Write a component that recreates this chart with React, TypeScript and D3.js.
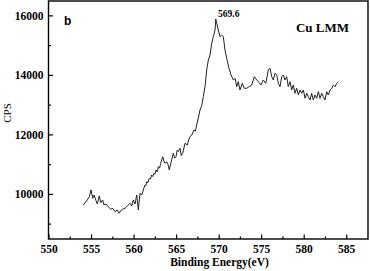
import React from "react";
import * as d3 from "d3";

const energy: number[] = [
  554.03, 554.35, 554.5, 554.74, 554.94, 555.14, 555.29, 555.53, 555.68, 555.91,
  556.08, 556.31, 556.47, 556.7, 556.97, 557.25, 557.49, 557.76, 558.03, 558.26,
  558.43, 558.66, 558.93, 559.13, 559.32, 559.52, 559.72, 559.91, 560.11, 560.31,
  560.5, 560.7, 560.9, 561.09, 561.19, 561.29, 561.39, 561.49, 561.64, 561.79,
  561.93, 562.07, 562.2, 562.34, 562.46, 562.58, 562.72, 562.85, 563.0, 563.13,
  563.37, 563.5, 563.64, 563.84, 564.0, 564.14, 564.42, 564.61, 564.77, 564.93,
  565.06, 565.2, 565.4, 565.55, 565.72, 565.99, 566.26, 566.42, 566.58, 566.78,
  567.05, 567.2, 567.36, 567.55, 567.75, 567.95, 568.14, 568.34, 568.54, 568.73,
  568.93, 569.13, 569.32, 569.52, 569.6, 569.9, 570.1, 570.3, 570.49, 570.69,
  570.89, 571.16, 571.4, 571.67, 571.87, 572.07, 572.25, 572.45, 572.72, 572.96,
  573.24, 573.51, 573.83, 574.14, 574.42, 574.61, 574.92, 575.19, 575.48, 575.78,
  575.98, 576.18, 576.37, 576.57, 576.77, 576.96, 577.16, 577.36, 577.54, 577.74,
  577.94, 578.13, 578.33, 578.53, 578.72, 578.92, 579.12, 579.31, 579.51, 579.71,
  579.9, 580.1, 580.3, 580.48, 580.68, 580.88, 581.07, 581.27, 581.47, 581.66,
  581.86, 582.06, 582.25, 582.45, 582.65, 582.84, 583.04, 583.24, 583.42, 583.62,
  583.82, 584.01,
];

const cps: number[] = [
  9644, 9755, 9812, 9923, 10148, 9869, 9980, 9788, 9677, 9946,
  9721, 9812, 9644, 9677, 9586, 9499, 9533, 9418, 9476, 9365,
  9452, 9499, 9533, 9586, 9644, 9701, 9610, 9812, 9677, 9980,
  9476, 10037, 9980, 10148, 10240, 10316, 10290, 10427, 10400, 10541,
  10520, 10652, 10600, 10709, 10680, 10820, 10760, 10931, 10880, 11045,
  11267, 11120, 11045, 11099, 11000, 10820, 11156, 11381, 11220, 11267,
  11480, 11435, 11549, 11300, 11381, 11717, 11660, 11830, 11939, 11996,
  12164, 12120, 12332, 12568, 12837, 12980, 13284, 13620, 14181, 14517,
  14685, 15078, 15300, 15525, 15895, 15525, 15300, 15357, 15300, 14853,
  14574, 14238, 14013, 13845, 13902, 13620, 13788, 13509, 13734, 13566,
  13566, 13620, 13677, 13956, 13845, 13788, 13677, 13845, 13734, 14181,
  14238, 13956, 13845, 14070, 14013, 13734, 13620, 13956, 14013, 13845,
  13956, 13620, 13788, 13509, 13677, 13398, 13566, 13341, 13509, 13398,
  13509, 13230, 13398, 13284, 13173, 13398, 13173, 13341, 13230, 13452,
  13230, 13398, 13284, 13173, 13452, 13341, 13509, 13566, 13677, 13620,
  13734, 13788,
];

const xMajorTicks: number[] = [550, 555, 560, 565, 570, 575, 580, 585];
const xMinorTicks: number[] = [552.5, 557.5, 562.5, 567.5, 572.5, 577.5, 582.5];
const yMajorTicks: number[] = [10000, 12000, 14000, 16000];
const yMinorTicks: number[] = [9000, 11000, 13000, 15000];

const peakLabel = "569.6";
const peakEnergy = 569.6;
const peakValue = 15895;

export default function App() {
  const left = 48.5;
  const right = 368;
  const top = 1;
  const bottom = 239;
  const x = d3.scaleLinear().domain([550, 587.5]).range([left + 0.5, right]);
  const y = d3.scaleLinear().domain([8500, 16500]).range([bottom, top]);
  const pts: [number, number][] = energy.map((e, i) => [e, cps[i]]);
  const line = d3
    .line<[number, number]>()
    .x((d) => x(d[0]))
    .y((d) => y(d[1]));
  const serif = "'Liberation Serif', 'Times New Roman', serif";
  return (
    <div style={{ position: "fixed", left: 0, top: 0 }}>
      <svg width={370} height={271} style={{ display: "block", background: "#fff" }}>
        <path d={line(pts) || ""} fill="none" stroke="#222" strokeWidth={1} strokeLinejoin="round" />
        {xMajorTicks.map((t) => (
          <g key={"xm" + t}>
            <line x1={x(t)} x2={x(t)} y1={bottom} y2={bottom - 4.5} stroke="#000" strokeWidth={1.2} />
            <text x={x(t)} y={253} textAnchor="middle" fontFamily={serif} fontWeight="bold" fontSize={11.5}>
              {t}
            </text>
          </g>
        ))}
        {xMinorTicks.map((t) => (
          <line key={"xn" + t} x1={x(t)} x2={x(t)} y1={bottom} y2={bottom - 2.5} stroke="#000" strokeWidth={1.2} />
        ))}
        {yMajorTicks.map((t) => (
          <g key={"ym" + t}>
            <line x1={left} x2={left + 4.5} y1={y(t)} y2={y(t)} stroke="#000" strokeWidth={1.2} />
            <text x={43.5} y={y(t) + 3.8} textAnchor="end" fontFamily={serif} fontWeight="bold" fontSize={11.5}>
              {t}
            </text>
          </g>
        ))}
        {yMinorTicks.map((t) => (
          <line key={"yn" + t} x1={left} x2={left + 2.5} y1={y(t)} y2={y(t)} stroke="#000" strokeWidth={1.2} />
        ))}
        <rect x={left} y={top} width={right - left} height={bottom - top} fill="none" stroke="#000" strokeWidth={1.4} />
        <text x={219.5} y={266} textAnchor="middle" fontFamily={serif} fontWeight="bold" fontSize={11.5}>
          Binding Energy(eV)
        </text>
        <text
          transform={`translate(10.5,113) rotate(-90)`}
          textAnchor="middle"
          fontFamily={serif}
          fontSize={11}
        >
          CPS
        </text>
        <text x={x(peakEnergy) + 13} y={y(peakValue) - 1.5} textAnchor="middle" fontFamily={serif} fontWeight="bold" fontSize={9.5}>
          {peakLabel}
        </text>
        <text x={322.5} y={31.5} textAnchor="middle" fontFamily={serif} fontWeight="bold" fontSize={13}>
          Cu LMM
        </text>
        <text x={64} y={25} fontFamily="'Liberation Sans', Arial, sans-serif" fontWeight="bold" fontSize={12}>
          b
        </text>
      </svg>
    </div>
  );
}
